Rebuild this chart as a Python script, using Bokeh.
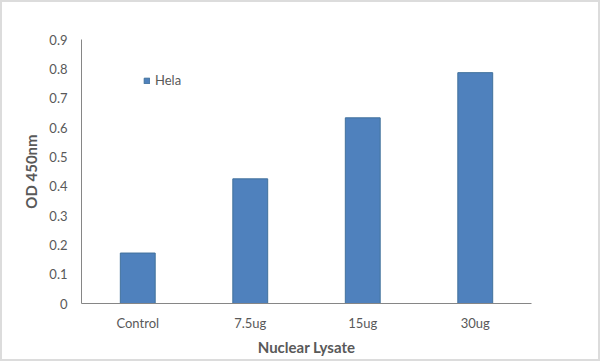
from bokeh.plotting import figure
from bokeh.models import Range1d, FactorRange, ColumnDataSource, Legend, LegendItem, FixedTicker
from bokeh.embed import file_html
from bokeh.resources import INLINE

categories = ["Control", "7.5ug", "15ug", "30ug"]
hela = [0.172, 0.425, 0.633, 0.787]
y_ticks = [0, 0.1, 0.2, 0.3, 0.4, 0.5, 0.6, 0.7, 0.8, 0.9]

FONT = "Lato"
TXT = "#595959"

src = ColumnDataSource(dict(cat=categories, val=hela))

p = figure(width=600, height=361, x_range=FactorRange(*categories, range_padding=0),
           y_range=Range1d(0, 0.9), output_backend="svg", toolbar_location=None,
           min_border_left=81, min_border_right=69, min_border_top=39, min_border_bottom=58)
p.outline_line_color = None
p.border_fill_color = None
p.background_fill_color = None
p.styles = {"box-shadow": "inset 0 0 0 2px #dcdcdc", "background-color": "white"}
p.xgrid.grid_line_color = None
p.ygrid.grid_line_color = None

r = p.vbar(x="cat", top="val", width=0.31, source=src, fill_color="#4F81BD", line_color="#41719C", line_width=1)

p.yaxis.ticker = FixedTicker(ticks=y_ticks)
for ax in (p.xaxis[0], p.yaxis[0]):
    ax.axis_line_color = "#868686"
    ax.axis_line_width = 1
    ax.major_tick_line_color = None
    ax.minor_tick_line_color = None
    ax.major_tick_out = 0
    ax.major_tick_in = 0
    ax.minor_tick_out = 0
    ax.minor_tick_in = 0
    ax.major_label_text_font = FONT
    ax.major_label_text_font_size = "13px"
    ax.major_label_text_color = TXT
    ax.axis_label_text_font = FONT
    ax.axis_label_text_font_size = "15px"
    ax.axis_label_text_font_style = "bold"
    ax.axis_label_text_color = TXT

p.yaxis.axis_label = "OD 450nm"
p.xaxis.axis_label = "Nuclear Lysate"
p.yaxis.major_label_standoff = 14
p.yaxis.axis_label_standoff = 6
p.xaxis.major_label_standoff = 11
p.xaxis.axis_label_standoff = 4

legend = Legend(items=[LegendItem(label="Hela", renderers=[r])], location=(62, 215))
legend.border_line_color = None
legend.background_fill_alpha = 0
legend.padding = 0
legend.margin = 0
legend.glyph_width = 7
legend.glyph_height = 7
legend.label_height = 14
legend.label_standoff = 5
legend.label_text_font = FONT
legend.label_text_font_size = "13px"
legend.label_text_color = TXT
p.add_layout(legend, "center")

open("out.html", "w").write(file_html(p, INLINE))
